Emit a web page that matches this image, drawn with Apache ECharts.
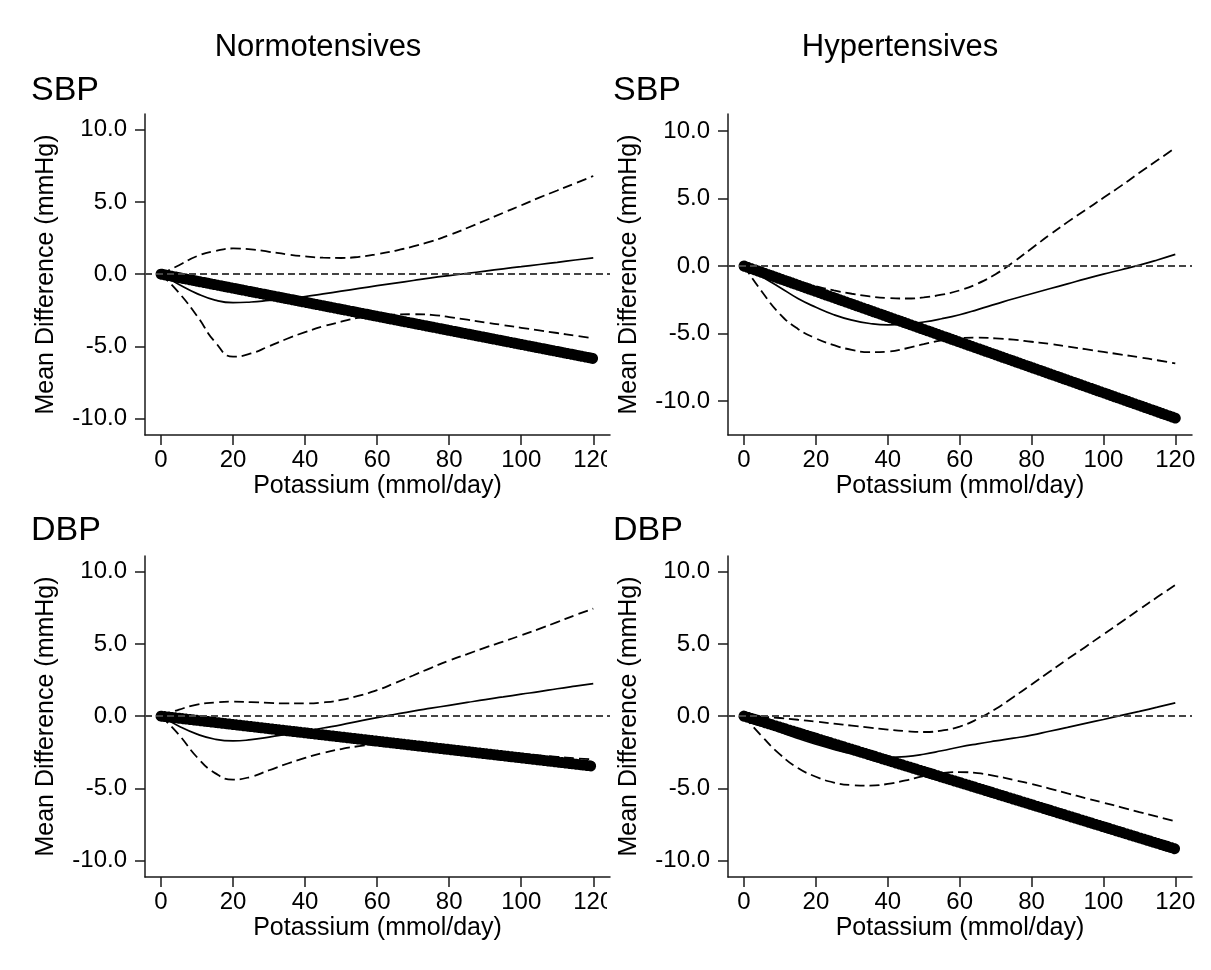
<!DOCTYPE html>
<html>
<head>
<meta charset="utf-8">
<script src="https://cdn.jsdelivr.net/npm/echarts@6/dist/echarts.min.js"></script>
<style>
  html, body { margin: 0; padding: 0; background: #fff; }
  #chart { width: 1211px; height: 970px; }
</style>
</head>
<body>
<div id="chart"></div>
<script>
// ---------- data ----------
const potassium = [0, 5, 10, 15, 20, 25, 30, 35, 40, 45, 50, 55, 60, 65, 70, 75, 80, 85, 90, 95, 100, 105, 110, 115, 120];
const linearPotassium = [0, 120];
const xTickValues = [0, 20, 40, 60, 80, 100, 120];
const yTickValues = [-10, -5, 0, 5, 10];

// Normotensives, SBP
const normSbpEst   = [0, -0.72, -1.35, -1.8, -1.98, -1.93, -1.82, -1.7, -1.55, -1.37, -1.18, -0.99, -0.8, -0.62, -0.44, -0.26, -0.1, 0.05, 0.21, 0.37, 0.52, 0.67, 0.82, 0.98, 1.13];
const normSbpUpper = [0, 0.62, 1.25, 1.6, 1.78, 1.72, 1.55, 1.37, 1.23, 1.14, 1.12, 1.2, 1.38, 1.62, 1.92, 2.27, 2.7, 3.2, 3.72, 4.25, 4.77, 5.3, 5.8, 6.3, 6.8];
const normSbpLower = [0, -1.3, -2.9, -4.7, -5.72, -5.5, -5.0, -4.48, -4.02, -3.62, -3.3, -3.02, -2.87, -2.8, -2.78, -2.82, -2.98, -3.16, -3.35, -3.53, -3.72, -3.9, -4.08, -4.27, -4.45];
const normSbpLinear = [0, -5.85];

// Hypertensives, SBP
const hypSbpEst   = [0, -0.8, -1.58, -2.4, -3.05, -3.6, -4.0, -4.25, -4.35, -4.3, -4.14, -3.9, -3.6, -3.22, -2.82, -2.42, -2.05, -1.68, -1.32, -0.95, -0.6, -0.27, 0.07, 0.45, 0.86];
const hypSbpUpper = [0, -0.4, -0.8, -1.15, -1.5, -1.8, -2.05, -2.25, -2.37, -2.4, -2.32, -2.12, -1.8, -1.3, -0.6, 0.3, 1.3, 2.3, 3.25, 4.15, 5.05, 5.95, 6.9, 7.82, 8.75];
const hypSbpLower = [0, -1.9, -3.55, -4.65, -5.35, -5.85, -6.2, -6.37, -6.33, -6.1, -5.78, -5.5, -5.33, -5.3, -5.35, -5.45, -5.6, -5.75, -5.95, -6.15, -6.35, -6.55, -6.75, -6.97, -7.2];
const hypSbpLinear = [0, -11.25];

// Normotensives, DBP
const normDbpEst   = [0, -0.7, -1.25, -1.6, -1.72, -1.63, -1.45, -1.25, -1.05, -0.82, -0.6, -0.35, -0.1, 0.13, 0.35, 0.55, 0.75, 0.95, 1.15, 1.33, 1.52, 1.7, 1.9, 2.08, 2.25];
const normDbpUpper = [0, 0.45, 0.8, 0.95, 1.0, 0.97, 0.92, 0.88, 0.88, 0.95, 1.12, 1.42, 1.8, 2.3, 2.82, 3.35, 3.85, 4.3, 4.75, 5.17, 5.6, 6.05, 6.52, 7.0, 7.45];
const normDbpLower = [0, -1.3, -2.85, -3.95, -4.4, -4.2, -3.75, -3.3, -2.9, -2.55, -2.28, -2.08, -1.95, -1.9, -1.92, -2.0, -2.12, -2.25, -2.38, -2.5, -2.6, -2.72, -2.82, -2.92, -3.0];
const normDbpLinear = [0, -3.47];

// Hypertensives, DBP
const hypDbpEst   = [0, -0.55, -1.1, -1.55, -1.95, -2.3, -2.6, -2.77, -2.85, -2.8, -2.64, -2.4, -2.14, -1.92, -1.72, -1.53, -1.32, -1.05, -0.78, -0.5, -0.23, 0.05, 0.33, 0.62, 0.92];
const hypDbpUpper = [0, -0.05, -0.13, -0.25, -0.38, -0.52, -0.66, -0.8, -0.93, -1.04, -1.1, -1.0, -0.72, -0.2, 0.5, 1.33, 2.2, 3.08, 3.95, 4.8, 5.67, 6.53, 7.4, 8.25, 9.1];
const hypDbpLower = [0, -1.4, -2.65, -3.6, -4.2, -4.6, -4.78, -4.82, -4.7, -4.45, -4.15, -3.95, -3.88, -3.95, -4.15, -4.42, -4.7, -5.02, -5.35, -5.68, -6.0, -6.32, -6.65, -6.97, -7.3];
const hypDbpLinear = [0, -9.2];

// ---------- chart ----------
const FONT = 'Liberation Sans, Arial, Helvetica, sans-serif';
const pair = (xs, ys) => xs.map((x, i) => [x, ys[i]]);

const panels = [
  { grid: { left: 145, top: 114, width: 465, height: 321 }, yMin: -11.15, yMax: 11.1,
    est: normSbpEst, up: normSbpUpper, lo: normSbpLower, lin: normSbpLinear },
  { grid: { left: 728, top: 114, width: 464, height: 321 }, yMin: -12.5, yMax: 11.25,
    est: hypSbpEst, up: hypSbpUpper, lo: hypSbpLower, lin: hypSbpLinear },
  { grid: { left: 145, top: 556, width: 465, height: 321 }, yMin: -11.15, yMax: 11.1,
    est: normDbpEst, up: normDbpUpper, lo: normDbpLower, lin: normDbpLinear },
  { grid: { left: 728, top: 556, width: 464, height: 321 }, yMin: -11.15, yMax: 11.1,
    est: hypDbpEst, up: hypDbpUpper, lo: hypDbpLower, lin: hypDbpLinear }
];

const axisLineStyle = { color: '#1a1a1a', width: 1.5 };
const grids = [], xAxes = [], yAxes = [], series = [];

panels.forEach((p, i) => {
  grids.push(Object.assign({ containLabel: false }, p.grid));
  xAxes.push({
    type: 'value', gridIndex: i, min: -4.45, max: 124.65,
    name: 'Potassium (mmol/day)', nameLocation: 'middle', nameGap: 39,
    nameTextStyle: { fontSize: 25, color: '#000', fontFamily: FONT },
    axisLine: { show: true, onZero: false, lineStyle: axisLineStyle },
    axisTick: { show: true, length: 10, lineStyle: axisLineStyle, customValues: xTickValues },
    axisLabel: { fontSize: 24, color: '#000', fontFamily: FONT, margin: 13, customValues: xTickValues },
    splitLine: { show: false }
  });
  yAxes.push({
    type: 'value', gridIndex: i, min: p.yMin, max: p.yMax,
    name: 'Mean Difference (mmHg)', nameLocation: 'middle', nameGap: 86,
    nameTextStyle: { fontSize: 25, color: '#000', fontFamily: FONT },
    axisLine: { show: true, onZero: false, lineStyle: axisLineStyle },
    axisTick: { show: true, length: 10, lineStyle: axisLineStyle, customValues: yTickValues },
    axisLabel: { fontSize: 24, color: '#000', fontFamily: FONT, margin: 18, customValues: yTickValues,
                 formatter: v => Number(v).toFixed(1) },
    splitLine: { show: false }
  });
  // zero reference line
  series.push({
    type: 'line', xAxisIndex: i, yAxisIndex: i, data: [], z: 1, silent: true,
    markLine: {
      silent: true, symbol: 'none', label: { show: false },
      lineStyle: { color: '#444', width: 1.8, type: [7, 4] },
      data: [{ yAxis: 0 }]
    }
  });
  // CI bounds
  [p.up, p.lo].forEach(arr => series.push({
    type: 'line', xAxisIndex: i, yAxisIndex: i, data: pair(potassium, arr),
    smooth: 0.5, showSymbol: false, z: 2, silent: true,
    lineStyle: { color: '#000', width: 1.8, type: [10, 5] }
  }));
  // estimate
  series.push({
    type: 'line', xAxisIndex: i, yAxisIndex: i, data: pair(potassium, p.est),
    smooth: 0.5, showSymbol: false, z: 2, silent: true,
    lineStyle: { color: '#000', width: 1.7, type: 'solid' }
  });
  // linear fit (chain of dots)
  series.push({
    type: 'line', xAxisIndex: i, yAxisIndex: i, data: pair(linearPotassium, p.lin),
    showSymbol: false, z: 3, silent: true,
    lineStyle: { color: '#000', width: 11, type: [0.5, 3.1], cap: 'round' }
  });
});

const option = {
  backgroundColor: '#fff',
  animation: false,
  grid: grids,
  xAxis: xAxes,
  yAxis: yAxes,
  series: series,
  graphic: [
    { type: 'text', x: 318, y: 47, z: 10,
      style: { text: 'Normotensives', font: '31px ' + FONT, fill: '#000', align: 'center', verticalAlign: 'middle' } },
    { type: 'text', x: 900, y: 47, z: 10,
      style: { text: 'Hypertensives', font: '31px ' + FONT, fill: '#000', align: 'center', verticalAlign: 'middle' } },
    { type: 'text', x: 31, y: 91, z: 10,
      style: { text: 'SBP', font: '34px ' + FONT, fill: '#000', align: 'left', verticalAlign: 'middle' } },
    { type: 'text', x: 613, y: 91, z: 10,
      style: { text: 'SBP', font: '34px ' + FONT, fill: '#000', align: 'left', verticalAlign: 'middle' } },
    { type: 'text', x: 31, y: 531, z: 10,
      style: { text: 'DBP', font: '34px ' + FONT, fill: '#000', align: 'left', verticalAlign: 'middle' } },
    { type: 'text', x: 613, y: 531, z: 10,
      style: { text: 'DBP', font: '34px ' + FONT, fill: '#000', align: 'left', verticalAlign: 'middle' } },
    // the left panels' last tick label is cut by the right panels' region in the original
    { type: 'rect', shape: { x: 607, y: 445, width: 14, height: 30 }, style: { fill: '#fff' }, z: 20, silent: true },
    { type: 'rect', shape: { x: 607, y: 887, width: 14, height: 30 }, style: { fill: '#fff' }, z: 20, silent: true }
  ]
};

const chart = echarts.init(document.getElementById('chart'), null, { renderer: 'canvas' });
chart.setOption(option);
</script>
</body>
</html>
